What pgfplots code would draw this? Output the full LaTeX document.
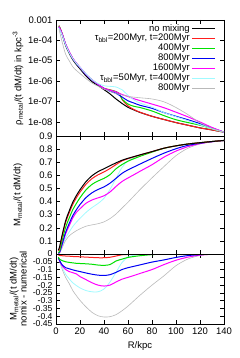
\documentclass[border=0pt]{standalone}
\usepackage{fontspec}
\setmainfont{Liberation Sans}
\usepackage{pgfplots}
\usepackage{pgfplotstable}
\pgfplotsset{compat=1.18}

\definecolor{cRed}{RGB}{255,30,30}
\definecolor{cGreen}{RGB}{0,225,0}
\definecolor{cBlue}{RGB}{0,0,245}
\definecolor{cMag}{RGB}{255,0,255}
\definecolor{cCyan}{RGB}{160,250,255}
\definecolor{cGray}{RGB}{185,185,185}

\pgfplotstableread{
R black red green blue magenta cyan gray
2.5 5.25e-4 5.25e-4 5.01e-4 4.47e-4 4.79e-4 3.98e-4 3.55e-4
5 2.09e-4 2.24e-4 2.24e-4 2.09e-4 2.24e-4 1.91e-4 8.91e-5
8 5.62e-5 6.31e-5 6.31e-5 6.31e-5 6.61e-5 6.03e-5 2.09e-5
11 2.34e-5 2.63e-5 2.63e-5 2.63e-5 2.75e-5 2.51e-5 1.00e-5
14 1.12e-5 1.26e-5 1.26e-5 1.26e-5 1.32e-5 1.26e-5 5.01e-6
17 6.46e-6 7.24e-6 7.24e-6 7.24e-6 7.59e-6 7.41e-6 3.31e-6
20 3.98e-6 4.57e-6 4.57e-6 4.57e-6 4.79e-6 4.79e-6 2.34e-6
25 1.78e-6 2.09e-6 2.09e-6 2.09e-6 2.19e-6 2.29e-6 1.32e-6
30 9.33e-7 1.12e-6 1.12e-6 1.12e-6 1.15e-6 1.17e-6 7.94e-7
35 6.03e-7 6.76e-7 6.76e-7 6.76e-7 6.92e-7 7.59e-7 5.62e-7
40 3.80e-7 4.37e-7 4.37e-7 4.37e-7 4.37e-7 5.89e-7 3.98e-7
45 2.34e-7 3.72e-7 3.63e-7 3.16e-7 3.55e-7 5.50e-7 3.16e-7
50 1.32e-7 3.02e-7 3.02e-7 2.51e-7 2.95e-7 5.13e-7 2.40e-7
53 9.77e-8 2.40e-7 2.24e-7 1.95e-7 2.45e-7 4.27e-7 2.19e-7
55 7.94e-8 1.26e-7 1.32e-7 1.66e-7 2.19e-7 3.80e-7 2.09e-7
60 5.13e-8 6.03e-8 7.41e-8 1.07e-7 1.74e-7 2.00e-7 1.78e-7
65 3.80e-8 3.98e-8 5.75e-8 8.32e-8 1.35e-7 1.17e-7 1.62e-7
70 2.88e-8 2.95e-8 5.01e-8 6.46e-8 1.10e-7 8.32e-8 1.51e-7
80 1.86e-8 1.86e-8 3.39e-8 4.57e-8 7.41e-8 5.25e-8 1.32e-7
90 1.29e-8 1.29e-8 2.00e-8 2.82e-8 4.90e-8 2.82e-8 9.55e-8
100 9.12e-9 9.12e-9 1.26e-8 1.86e-8 2.95e-8 1.78e-8 5.01e-8
110 6.76e-9 6.76e-9 9.12e-9 1.26e-8 1.74e-8 1.12e-8 2.24e-8
120 5.01e-9 5.01e-9 6.76e-9 8.13e-9 9.77e-9 7.08e-9 8.91e-9
130 3.98e-9 3.98e-9 4.57e-9 5.01e-9 5.25e-9 4.47e-9 4.79e-9
140 3.09e-9 3.09e-9 3.09e-9 3.09e-9 3.09e-9 3.09e-9 3.09e-9
}\toptable

\pgfplotstableread{
R black red green blue magenta cyan gray
2 0.03 0.025 0.01 0.005 0.005 0.005 0.005
3 0.055 0.046 0.021 0.013 0.010 0.010 0.010
5 0.14 0.129 0.098 0.072 0.065 0.055 0.045
8 0.253 0.240 0.203 0.165 0.153 0.123 0.103
11 0.328 0.314 0.274 0.233 0.215 0.168 0.138
14 0.395 0.379 0.338 0.293 0.275 0.210 0.160
17 0.446 0.429 0.386 0.338 0.318 0.243 0.178
20 0.49 0.472 0.429 0.377 0.345 0.272 0.192
25 0.552 0.532 0.489 0.430 0.387 0.317 0.212
30 0.597 0.575 0.531 0.467 0.412 0.354 0.222
35 0.628 0.604 0.557 0.492 0.428 0.385 0.231
40 0.650 0.626 0.577 0.512 0.444 0.425 0.245
45 0.673 0.652 0.605 0.540 0.473 0.493 0.270
50 0.695 0.682 0.650 0.577 0.515 0.577 0.305
55 0.715 0.710 0.682 0.615 0.553 0.660 0.350
60 0.730 0.727 0.708 0.642 0.580 0.710 0.395
65 0.743 0.741 0.727 0.664 0.605 0.735 0.443
70 0.756 0.755 0.745 0.686 0.631 0.753 0.491
80 0.781 0.781 0.777 0.729 0.681 0.781 0.581
90 0.807 0.807 0.806 0.769 0.739 0.807 0.667
100 0.825 0.825 0.825 0.803 0.785 0.825 0.750
110 0.839 0.839 0.839 0.829 0.819 0.839 0.807
120 0.849 0.849 0.849 0.845 0.842 0.849 0.839
130 0.858 0.858 0.858 0.857 0.856 0.858 0.856
140 0.866 0.866 0.866 0.866 0.866 0.866 0.866
}\midtable

\pgfplotstableread{
R black red green blue magenta cyan gray
2 0 -0.005 -0.02 -0.025 -0.025 -0.025 -0.025
3 0 -0.009 -0.034 -0.042 -0.045 -0.045 -0.045
5 0 -0.011 -0.042 -0.068 -0.075 -0.085 -0.095
8 0 -0.013 -0.05 -0.088 -0.10 -0.13 -0.15
11 0 -0.014 -0.054 -0.095 -0.113 -0.16 -0.19
14 0 -0.016 -0.057 -0.102 -0.12 -0.185 -0.235
17 0 -0.017 -0.06 -0.108 -0.128 -0.203 -0.268
20 0 -0.018 -0.061 -0.113 -0.145 -0.218 -0.298
25 0 -0.02 -0.063 -0.122 -0.165 -0.235 -0.34
30 0 -0.022 -0.066 -0.13 -0.185 -0.243 -0.375
35 0 -0.024 -0.071 -0.136 -0.2 -0.243 -0.397
40 0 -0.024 -0.073 -0.138 -0.206 -0.225 -0.405
45 0 -0.021 -0.068 -0.133 -0.2 -0.18 -0.403
50 0 -0.013 -0.045 -0.118 -0.18 -0.118 -0.39
55 0 -0.005 -0.033 -0.1 -0.162 -0.055 -0.365
60 0 -0.003 -0.022 -0.088 -0.15 -0.02 -0.335
65 0 -0.002 -0.016 -0.079 -0.138 -0.008 -0.3
70 0 -0.001 -0.011 -0.07 -0.125 -0.003 -0.265
80 0 0 -0.004 -0.052 -0.1 0 -0.2
90 0 0 -0.001 -0.038 -0.068 0 -0.14
100 0 0 0 -0.022 -0.04 0 -0.075
110 0 0 0 -0.01 -0.02 0 -0.032
120 0 0 0 -0.004 -0.007 0 -0.01
130 0 0 0 -0.001 -0.002 0 -0.002
140 0 0 0 0 0 0 0
}\bottable

\pgfplotsset{
  panel/.style={
    scale only axis, width=168pt, xmin=0, xmax=140,
    xtick={0,20,40,60,80,100,120,140},
    tick align=inside, major tick length=4pt,
    axis line style={line width=0.6pt},
    every tick/.style={line width=0.5pt, black},
    tick label style={font=\fontsize{9.5}{11}\selectfont},
    label style={font=\fontsize{9.5}{11}\selectfont},
    ylabel style={at={(axis description cs:-0.226,0.5)}, anchor=center},
    clip=true,
  },
  sBlack/.style={black, line width=1pt},
  sRed/.style={cRed, line width=1pt},
  sGreen/.style={cGreen, line width=1pt},
  sBlue/.style={cBlue, line width=1pt},
  sMag/.style={cMag, line width=1pt},
  sCyan/.style={cCyan, line width=0.8pt},
  sGray/.style={cGray, line width=0.6pt},
}

\begin{document}
\begin{tikzpicture}
\path[use as bounding box] (0pt,0pt) rectangle (240pt,-358pt);

\begin{axis}[panel, at={(56pt,-20pt)}, anchor=north west, height=116pt,
  ymode=log, ymin=2e-9, ymax=1e-3,
  ytick={1e-3,1e-4,1e-5,1e-6,1e-7,1e-8},
  yticklabels={0.001,1e-04,1e-05,1e-06,1e-07,1e-08},
  yminorticks=false,
  xticklabels={},
  ylabel={ρ\textsubscript{metal}/(t dM/dt) in kpc\textsuperscript{-3}},
  legend style={at={(axis description cs:0.952,0.97)}, anchor=north east,
    draw=none, fill=none, inner sep=0pt, row sep=0pt,
    font=\fontsize{9.5}{11}\selectfont,
    nodes={inner ysep=0.5pt, inner xsep=2pt, text height=6.9pt, text depth=2pt}},
  legend cell align=right,
  legend plot pos=right,
  legend image code/.code={\draw[#1] (0pt,0pt) -- (23pt,0pt);},
]
\addplot[sBlack, smooth] table[x=R, y=black] {\toptable};
\addlegendentry{no mixing}
\addplot[sRed, smooth] table[x=R, y=red] {\toptable};
\addlegendentry{τ\textsubscript{bbl}=200Myr, t=200Myr}
\addplot[sGreen, smooth] table[x=R, y=green] {\toptable};
\addlegendentry{400Myr}
\addplot[sBlue, smooth] table[x=R, y=blue] {\toptable};
\addlegendentry{800Myr}
\addplot[sMag, smooth] table[x=R, y=magenta] {\toptable};
\addlegendentry{1600Myr}
\addplot[sCyan, smooth] table[x=R, y=cyan] {\toptable};
\addlegendentry{τ\textsubscript{bbl}=50Myr, t=400Myr}
\addplot[sGray, smooth] table[x=R, y=gray] {\toptable};
\addlegendentry{800Myr}
\end{axis}

\begin{axis}[panel, at={(56pt,-136pt)}, anchor=north west, height=118pt,
  ymin=0, ymax=0.9,
  ytick={0.1,0.2,0.3,0.4,0.5,0.6,0.7,0.8,0.9},
  yticklabels={0.1,0.2,0.3,0.4,0.5,0.6,0.7,0.8,0.9},
  xticklabels={},
  ylabel={M\textsubscript{metal}/(t dM/dt)},
]
\addplot[sGray, smooth] table[x=R, y=gray] {\midtable};
\addplot[sCyan, smooth] table[x=R, y=cyan] {\midtable};
\addplot[sMag, smooth] table[x=R, y=magenta] {\midtable};
\addplot[sBlue, smooth] table[x=R, y=blue] {\midtable};
\addplot[sGreen, smooth] table[x=R, y=green] {\midtable};
\addplot[sRed, smooth] table[x=R, y=red] {\midtable};
\addplot[sBlack, smooth] table[x=R, y=black] {\midtable};
\end{axis}

\begin{axis}[panel, at={(56pt,-254pt)}, anchor=north west, height=70pt,
  ymin=-0.45, ymax=0,
  ytick={0,-0.05,-0.1,-0.15,-0.2,-0.25,-0.3,-0.35,-0.4,-0.45},
  yticklabels={0,-0.05,-0.1,-0.15,-0.2,-0.25,-0.3,-0.35,-0.4,-0.45},
  yticklabel style={font=\fontsize{8.6}{9}\selectfont},
  xticklabels={0,20,40,60,80,100,120,140},
  xlabel={R/kpc},
  ylabel={M\textsubscript{metal}/(t dM/dt)\\nomix - numerical},
  ylabel style={align=center, at={(axis description cs:-0.225,0.5)}, anchor=center, font=\fontsize{9.5}{10}\selectfont},
]
\addplot[sGray, smooth] table[x=R, y=gray] {\bottable};
\addplot[sCyan, smooth] table[x=R, y=cyan] {\bottable};
\addplot[sMag, smooth] table[x=R, y=magenta] {\bottable};
\addplot[sBlue, smooth] table[x=R, y=blue] {\bottable};
\addplot[sGreen, smooth] table[x=R, y=green] {\bottable};
\addplot[sRed, smooth] table[x=R, y=red] {\bottable};
\addplot[sBlack, line width=1.2pt] table[x=R, y=black] {\bottable};
\end{axis}
\end{tikzpicture}
\end{document}
